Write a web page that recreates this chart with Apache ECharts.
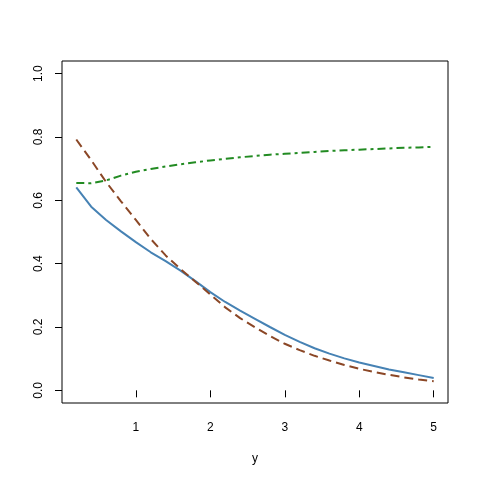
<!DOCTYPE html>
<html>
<head>
<meta charset="utf-8">
<script src="https://cdn.jsdelivr.net/npm/echarts@6/dist/echarts.min.js"></script>
<style>html,body{margin:0;padding:0;background:#fff}#c{width:480px;height:480px}</style>
</head>
<body>
<div id="c"></div>
<script>
const xs = [0.2,0.4,0.6,0.8,1.0,1.2,1.4,1.6,1.8,2.0,2.2,2.4,2.6,2.8,3.0,3.2,3.4,3.6,3.8,4.0,4.2,4.4,4.6,4.8,5.0];
const blueVals = [0.641,0.580,0.538,0.502,0.468,0.436,0.408,0.378,0.345,0.310,0.279,0.252,0.226,0.200,0.175,0.153,0.133,0.116,0.101,0.088,0.077,0.066,0.057,0.048,0.039];
const brownVals = [0.792,0.727,0.658,0.597,0.538,0.478,0.426,0.383,0.343,0.303,0.262,0.228,0.199,0.172,0.147,0.127,0.109,0.094,0.080,0.068,0.058,0.049,0.041,0.034,0.029];
const greenVals = [0.655,0.654,0.663,0.678,0.690,0.699,0.707,0.714,0.720,0.726,0.731,0.736,0.740,0.744,0.747,0.750,0.753,0.756,0.758,0.760,0.762,0.764,0.766,0.767,0.769];
const xTicks = [1,2,3,4,5];
const yTicks = [0,0.2,0.4,0.6,0.8,1.0];
const xLabel = 'y';

const pairs = v => xs.map((x,i)=>[x, v[i]]);
const font = 'Liberation Sans, Arial, sans-serif';
const chart = echarts.init(document.getElementById('c'), null, {renderer:'canvas'});
chart.setOption({
  animation:false,
  backgroundColor:'#fff',
  grid:{left:62,right:32,top:61,bottom:77,show:true,borderColor:'#000',borderWidth:1,backgroundColor:'transparent'},
  xAxis:{type:'value',min:0.008,max:5.192,
    name:xLabel,nameLocation:'middle',nameGap:50,
    nameTextStyle:{fontFamily:font,fontSize:12,color:'#000'},
    axisLine:{show:false},
    splitLine:{show:false},
    axisTick:{show:true,length:7,inside:false,lineStyle:{color:'#000'},customValues:xTicks},
    axisLabel:{fontFamily:font,fontSize:12,color:'#000',margin:19,customValues:xTicks,formatter:v=>String(v)}
  },
  yAxis:{type:'value',min:-0.04,max:1.04,
    axisLine:{show:false},
    splitLine:{show:false},
    axisTick:{show:true,length:7,inside:false,lineStyle:{color:'#000'},customValues:yTicks},
    axisLabel:{fontFamily:font,fontSize:12,color:'#000',margin:17,rotate:90,customValues:yTicks,formatter:v=>v.toFixed(1)}
  },
  series:[
    {type:'line',data:pairs(blueVals),showSymbol:false,lineStyle:{color:'#4682B4',width:2,type:'solid'}},
    {type:'line',data:pairs(brownVals),showSymbol:false,lineStyle:{color:'#8B4726',width:2,type:[9,5]}},
    {type:'line',data:pairs(greenVals),showSymbol:false,lineStyle:{color:'#228B22',width:2,type:[8,4,3,4]}}
  ]
});
</script>
</body>
</html>
